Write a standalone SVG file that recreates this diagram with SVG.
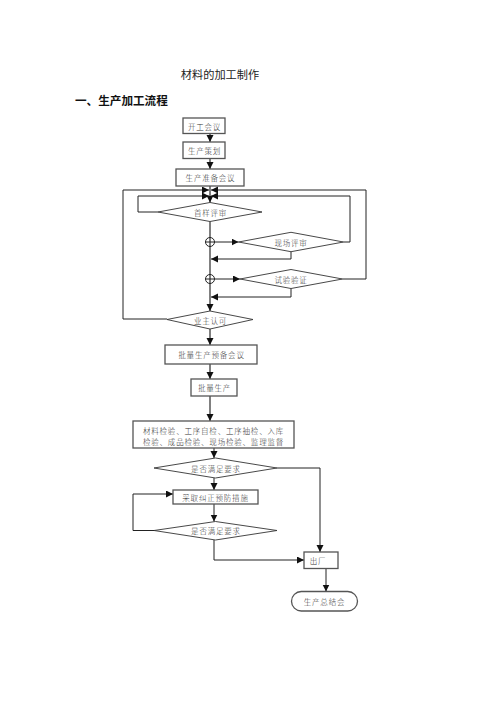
<svg xmlns="http://www.w3.org/2000/svg" width="496" height="702" viewBox="0 0 496 702">
<defs>
<marker id="ah" markerUnits="userSpaceOnUse" markerWidth="8" markerHeight="8" refX="7" refY="3.5" orient="auto">
<path d="M0,0 L7,3.5 L0,7 Z" fill="#111"/>
</marker>
<style>
.box{fill:#fff;stroke:#555;stroke-width:1.3}
.dia{fill:#fff;stroke:#333;stroke-width:0.9}
.ln{fill:none;stroke:#222;stroke-width:1}
.main{fill:none;stroke:#808080;stroke-width:2}
.t{font-family:"Noto Sans CJK SC","Noto Sans",sans-serif;font-weight:300;font-size:7.5px;fill:#333;letter-spacing:0.8px;text-anchor:middle;dominant-baseline:central}
</style>
</defs>
<rect width="496" height="702" fill="#fff"/>
<text x="220" y="74" font-family="'Noto Sans CJK SC',sans-serif" font-size="11.2" fill="#222" text-anchor="middle" dominant-baseline="central">材料的加工制作</text>
<text x="75" y="100" font-family="'Noto Sans CJK SC',sans-serif" font-size="11.6" font-weight="bold" fill="#111" dominant-baseline="central">一、生产加工流程</text>

<g id="connectors">
<line class="main" x1="210" y1="133.5" x2="210" y2="142" marker-end="url(#ah)"/>
<line class="main" x1="210" y1="158.5" x2="210" y2="169" marker-end="url(#ah)"/>
<line class="main" x1="210" y1="186" x2="210" y2="202.5" marker-end="url(#ah)"/>
<polyline class="ln" points="167,319 123,319 123,190 209,190" marker-end="url(#ah)"/>
<polyline class="ln" points="158,212 138,212 138,196 209,196" marker-end="url(#ah)"/>
<polyline class="ln" points="343.5,242 350,242 350,196 211,196" marker-end="url(#ah)"/>
<polyline class="ln" points="342.5,279 366,279 366,190 211,190" marker-end="url(#ah)"/>
<line class="main" x1="210" y1="221.5" x2="210" y2="311" marker-end="url(#ah)"/>
<circle cx="210" cy="242" r="4.5" fill="none" stroke="#222" stroke-width="1"/>
<circle cx="210" cy="279" r="4.5" fill="none" stroke="#222" stroke-width="1"/>
<line class="ln" x1="205.5" y1="242" x2="238.5" y2="242" marker-end="url(#ah)"/>
<line class="ln" x1="205.5" y1="279" x2="240" y2="279" marker-end="url(#ah)"/>
<polyline class="ln" points="291,251.7 291,259 211,259" marker-end="url(#ah)"/>
<polyline class="ln" points="291,288.5 291,297 211,297" marker-end="url(#ah)"/>
<line class="main" x1="210" y1="329" x2="210" y2="345" marker-end="url(#ah)"/>
<line class="main" x1="210" y1="364" x2="210" y2="379" marker-end="url(#ah)"/>
<line class="main" x1="210" y1="396" x2="210" y2="421" marker-end="url(#ah)"/>
<line class="ln" x1="214" y1="448" x2="214" y2="458" marker-end="url(#ah)"/>
<polyline class="ln" points="277,468 320,468 320,552" marker-end="url(#ah)"/>
<line class="ln" x1="214" y1="478" x2="214" y2="490" marker-end="url(#ah)"/>
<line class="ln" x1="214" y1="504" x2="214" y2="521.5" marker-end="url(#ah)"/>
<polyline class="ln" points="154,530.5 133,530.5 133,494 173,494" marker-end="url(#ah)"/>
<polyline class="ln" points="214,540 214,560 304,560" marker-end="url(#ah)"/>
<line class="ln" x1="326" y1="568.5" x2="326" y2="591.5" marker-end="url(#ah)"/>
</g>

<g id="n1"><rect class="box" x="183" y="118" width="42" height="15.5"/><text class="t" x="204.5" y="126">开工会议</text></g>
<g id="n2"><rect class="box" x="183" y="142" width="42" height="16.5"/><text class="t" x="204.5" y="150.5">生产策划</text></g>
<g id="n3"><rect class="box" x="176" y="169" width="68" height="17"/><text class="t" x="210.5" y="177.5">生产准备会议</text></g>
<g id="n4"><polygon class="dia" points="158,212 210,202.5 262,212 210,221.5"/><text class="t" x="210.5" y="212">首样评审</text></g>
<g id="n5"><polygon class="dia" points="238.5,242 291,232.3 343.5,242 291,251.7"/><text class="t" x="291" y="242">现场评审</text></g>
<g id="n6"><polygon class="dia" points="240,279 291,269.5 342.5,279 291,288.5"/><text class="t" x="291" y="279">试验验证</text></g>
<g id="n7"><polygon class="dia" points="167,319.5 210,311 253,319.5 210,329"/><text class="t" x="210.5" y="320">业主认可</text></g>
<g id="n8"><rect class="box" x="165" y="345" width="92" height="19"/><text class="t" x="211.5" y="354.5">批量生产预备会议</text></g>
<g id="n9"><rect class="box" x="191" y="379" width="46" height="17"/><text class="t" x="214.5" y="387.5">批量生产</text></g>
<g id="n10"><rect class="box" x="133" y="421" width="161" height="27"/><text class="t" x="213.5" y="430">材料检验、工序自检、工序抽检、入库</text><text class="t" x="213.5" y="441.5">检验、成品检验、现场检验、监理监督</text></g>
<g id="n11"><polygon class="dia" points="154,468 215.5,458 277,468 215.5,478"/><text class="t" x="216" y="468">是否满足要求</text></g>
<g id="n12"><rect class="box" x="173" y="490" width="85" height="14"/><text class="t" x="215.5" y="497">采取纠正预防措施</text></g>
<g id="n13"><polygon class="dia" points="154,530.5 215.5,521.5 277,530.5 215.5,540"/><text class="t" x="216" y="530.5">是否满足要求</text></g>
<g id="n14"><rect class="box" x="304" y="552" width="34" height="16.5"/><text class="t" x="318" y="560">出厂</text></g>
<g id="n15"><rect class="box" x="291.5" y="591.5" width="66" height="19.5" rx="9.75"/><text class="t" x="324.5" y="601.3">生产总结会</text></g>
</svg>
